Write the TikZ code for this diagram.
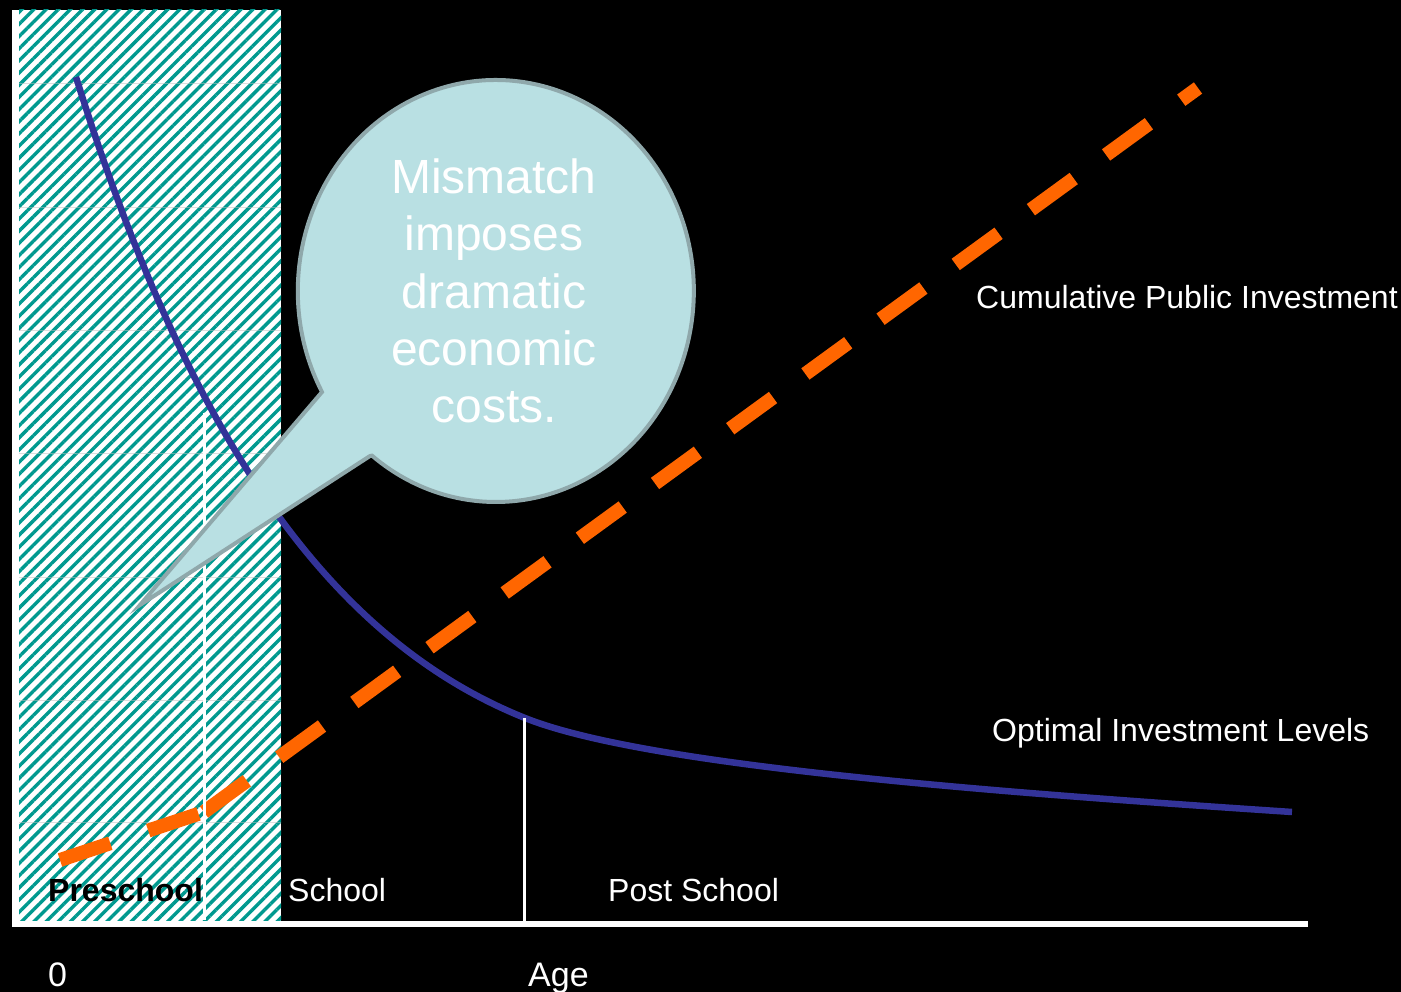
\documentclass[tikz,border=0pt]{standalone}
\usepackage{fontspec}
\setmainfont{Liberation Sans}
\usetikzlibrary{positioning, patterns.meta}
\definecolor{hatchteal}{HTML}{00998F}
\definecolor{curveblue}{HTML}{333399}
\definecolor{investorange}{HTML}{FF6600}
\definecolor{bubblefill}{HTML}{B9E0E3}
\definecolor{bubbleline}{HTML}{8FA8AB}
\tikzset{
  lbl/.style={inner sep=0pt, anchor=base west, text=white, font=\fontsize{32}{38}\selectfont},
  marker/.style={draw=white, line width=3pt},
  invest/.style={draw=investorange, line width=14pt, dash pattern=on 53pt off 40pt}
}

\begin{document}
\begin{tikzpicture}[x=1pt, y=-1pt]
  \useasboundingbox (0,0) rectangle (1401,992);
  \fill[black] (0,0) rectangle (1401,992);

  % Preschool band
  \fill[white] (12,10) rectangle (281,927);
  \fill[pattern={Lines[angle=45, distance=8.6pt, line width=3.4pt]}, pattern color=hatchteal]
    (19,10) rectangle (281,920);
  \foreach \y in {83,207,330,453,577,700,822}
    \draw[black!25, line width=0.8pt, opacity=0.5] (19,\y) -- (281,\y);

  % Axis
  \coordinate (origin) at (12,924);
  \coordinate (xend) at (1308,924);
  \draw[white, line width=5.5pt] (origin) -- (xend);

  % Optimal investment curve
  \coordinate (opt start) at (76,77);
  \coordinate (opt mid) at (525,718);
  \coordinate (opt end) at (1292,812);
  \draw[curveblue, line width=6.5pt]
    (opt start) .. controls (186,429) and (325,638) .. (opt mid)
    .. controls (645,766) and (992,792) .. (opt end);

  % Cumulative public investment
  \coordinate (c0) at (60,860);
  \coordinate (c1) at (204,812);
  \coordinate (c2) at (1198,88);
  \draw[invest] (c0) -- (c1);
  \draw[invest] (c1) -- (c2);

  % Stage markers
  \coordinate (pre top) at (204,413);
  \coordinate (pre bot) at (204,920);
  \coordinate (sch top) at (524,718);
  \coordinate (sch bot) at (524,922);
  \draw[marker] (pre top) -- (pre bot);
  \draw[marker] (sch top) -- (sch bot);

  % Speech bubble
  \filldraw[fill=bubblefill, draw=bubbleline, line width=4pt, line join=miter]
    (370,456) -- (140,605) -- (322,392)
    arc[start angle=151.4, end angle=488.7, x radius=198, y radius=211] -- cycle;
  \node[inner sep=0pt, text=white, align=center, font=\fontsize{48}{57.25}\selectfont]
    (bubble) at (494,291) {Mismatch\\imposes\\dramatic\\economic\\costs.};

  % Labels
  \node[lbl, text=black, font=\fontsize{32}{38}\selectfont\bfseries] (preschool) at (48,901) {Preschool};
  \node[lbl] (school) at (288,901) {School};
  \node[lbl] (post) at (608,901) {Post School};
  \node[lbl, font=\fontsize{34}{40}\selectfont] (zero) at (48,986) {0};
  \node[lbl, font=\fontsize{34}{40}\selectfont] (age) at (528,986) {Age};
  \node[lbl] (cum) at (976,309) {Cumulative Public Investment};
  \node[lbl] (opt) at (992,741) {Optimal Investment Levels};
\end{tikzpicture}
\end{document}
